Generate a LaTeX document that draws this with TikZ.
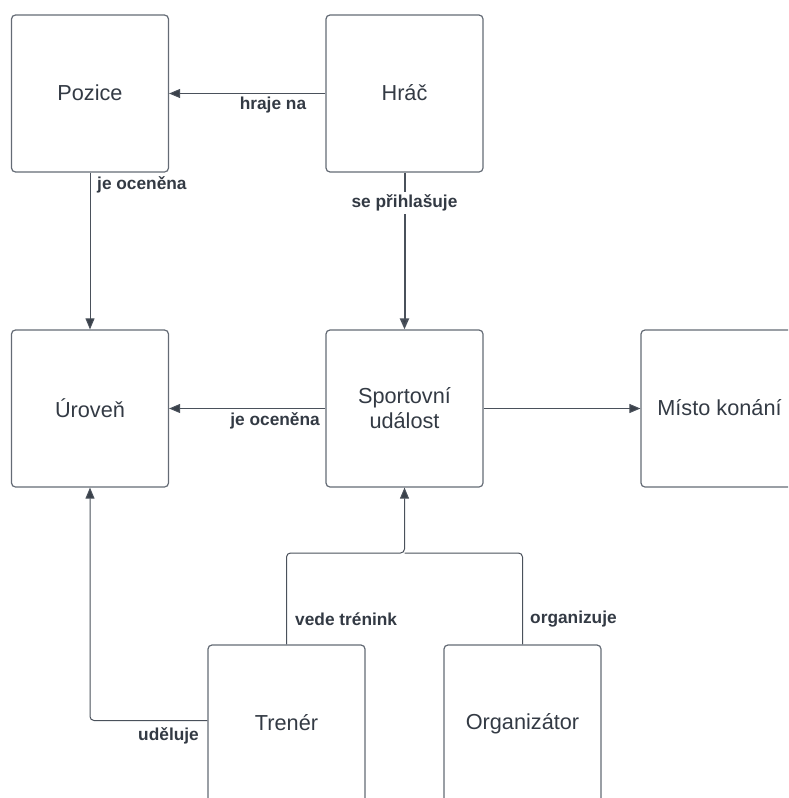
\documentclass[tikz,border=0pt]{standalone}
\usepackage{fontspec}
\setmainfont{Liberation Sans}
\usetikzlibrary{arrows.meta}
\definecolor{boxline}{HTML}{646B75}
\definecolor{conn}{HTML}{4A515B}
\definecolor{tip}{HTML}{3A414A}
\definecolor{txt}{HTML}{333A44}
\begin{document}
\begin{tikzpicture}[x=1pt,y=1pt,
  entity/.style={draw=boxline,line width=1.2pt,rounded corners=4pt,minimum width=157pt,minimum height=157pt,inner sep=0pt,text=txt,font=\fontsize{21.7}{25}\selectfont,align=center},
  link/.style={draw=conn,line width=1pt,-{Triangle[length=11pt,width=9pt,fill=tip]},rounded corners=4pt},
  plain/.style={draw=conn,line width=1pt,rounded corners=4pt},
  lbl/.style={text=txt,font=\fontsize{17.3}{20}\bfseries\selectfont,inner sep=1pt}]
\useasboundingbox (0,0) rectangle (788,-798);
\clip (0,0) rectangle (788,-798);
\node[entity] (poz) at (90,-93.5) {\raisebox{2pt}{Pozice}};
\node[entity] (hrac) at (404.5,-93.5) {\raisebox{2pt}{Hráč}};
\node[entity] (uro) at (90,-408.5) {Úroveň};
\node[entity] (sport) at (404.5,-408.5) {Sportovní\\událost};
\node[entity] (misto) at (719.5,-408.5) {\raisebox{1pt}{Místo konání}};
\node[entity] (tren) at (286.5,-723.5) {\raisebox{2pt}{Trenér}};
\node[entity] (org) at (522.5,-723.5) {\raisebox{2pt}{Organizátor}};
\coordinate (jn) at (404.5,-553);
\draw[link] (hrac) -- (poz);
\draw[link] (poz) -- (uro);
\draw[link,line width=2pt] (hrac) -- (sport);
\draw[link] (sport) -- (uro);
\draw[link] (sport) -- (misto);
\draw[link] (tren.north) |- (jn) -- (sport.south);
\draw[plain] (org.north) |- (jn);
\draw[link] ([yshift=3pt]tren.west) -| (uro.south);
\node[lbl] (l1) at (273,-105) {hraje na};
\node[lbl,anchor=west] (l2) at (96,-185) {je oceněna};
\node[lbl,fill=white,inner sep=3pt] (l3) at (404.5,-203) {se přihlašuje};
\node[lbl,anchor=east] (l4) at (321,-421) {je oceněna};
\node[lbl,anchor=west] (l5) at (294,-619) {vede trénink};
\node[lbl,anchor=west] (l6) at (529,-619) {organizuje};
\node[lbl,anchor=east] (l7) at (200,-736) {uděluje};
\end{tikzpicture}
\end{document}
